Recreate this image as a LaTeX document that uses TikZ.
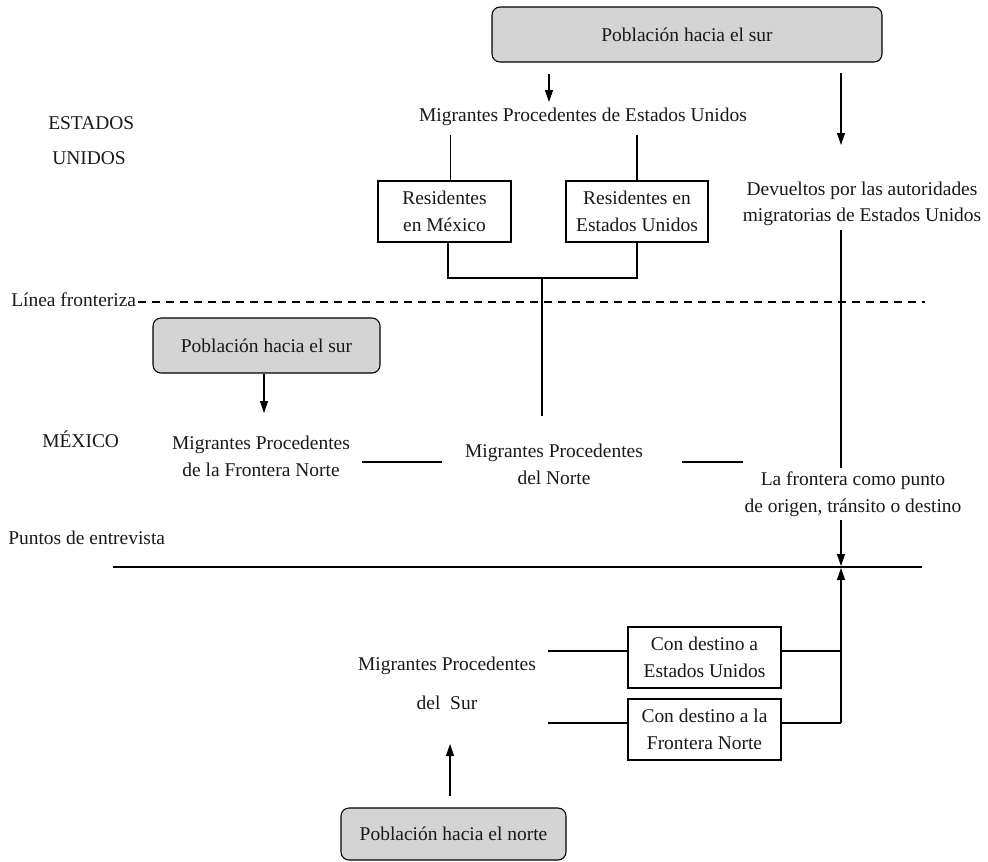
\documentclass[tikz,border=0pt]{standalone}
\usepackage{fontspec}
\setmainfont{Liberation Serif}
\usetikzlibrary{arrows.meta,calc}
\begin{document}
\begin{tikzpicture}[x=0.75pt,y=-0.75pt,
  every node/.style={font=\fontsize{14.6pt}{20pt}\selectfont, inner sep=0pt, text=black!90},
  txt/.style={align=center},
  graybox/.style={draw, rounded corners=6pt, fill=black!17, line width=0.8pt, minimum height=41.25pt},
  whitebox/.style={draw, fill=white, align=center, line width=0.8pt, minimum height=45.75pt},
  ln/.style={line width=0.8pt},
  arr/.style={line width=0.8pt, -{Triangle[length=9pt,width=6pt]}},
  border/.style={line width=0.8pt, dash pattern=on 6pt off 4.5pt}]
\useasboundingbox (0,0) rectangle (988,861);

% nodes
\node[graybox, minimum width=292.5pt] (top) at (687,34.5) {Población hacia el sur};
\node[txt] (migEU) at (583,117) {Migrantes Procedentes de Estados Unidos};
\node[whitebox, minimum width=99.75pt] (resMex) at (444.5,211.5) {Residentes\\en México};
\node[whitebox, minimum width=106.5pt] (resEU) at (637,211.5) {Residentes en\\Estados Unidos};
\node[txt] (dev) at (862,204) {Devueltos por las autoridades\\migratorias de Estados Unidos};
\node[anchor=west] (estados) at (48,123) {ESTADOS};
\node[anchor=west] (unidos) at (52,158) {UNIDOS};
\node[anchor=west] (linea) at (11,300) {Línea fronteriza};
\node[graybox, minimum width=170.25pt] (sur2) at (266.5,345.5) {Población hacia el sur};
\node[anchor=west] (mexico) at (42,439) {MÉXICO};
\node[txt] (migFN) at (261,456) {Migrantes Procedentes\\de la Frontera Norte};
\node[txt] (migN) at (554,464) {Migrantes Procedentes\\del Norte};
\node[txt] (front) at (853,494) {La frontera como punto\\de origen, tránsito o destino};
\node[anchor=west] (puntos) at (8,538) {Puntos de entrevista};
\node[txt] (migS) at (447,683) {Migrantes Procedentes\\[9pt]del\ \ Sur};
\node[whitebox, minimum width=114.75pt] (conEU) at (704.5,657.5) {Con destino a\\Estados Unidos};
\node[whitebox, minimum width=114.75pt] (conFN) at (704.5,729.5) {Con destino a la\\Frontera Norte};
\node[graybox, minimum width=168.75pt, minimum height=39pt] (norte) at (453.5,834) {Población hacia el norte};

% helper coordinates
\coordinate (dL) at (138,302);
\coordinate (dR) at (925,302);
\coordinate (hL) at (113,567);
\coordinate (hR) at (922,567);
\coordinate (hX) at (841,567);
\coordinate (a1s) at (549,74);
\coordinate (a1e) at (549,102);
\coordinate (a2s) at (841,73);
\coordinate (a2e) at (841,145);
\coordinate (m1) at (450.5,135);
\coordinate (m2) at (637,135);
\coordinate (j1) at (448,278);
\coordinate (j2) at (637,278);
\coordinate (jm) at (542,278);
\coordinate (jn) at (542,416);
\coordinate (d1) at (841,230);
\coordinate (d2) at (841,468);
\coordinate (f1) at (841,520);
\coordinate (s1) at (362,462);
\coordinate (s2) at (442,462);
\coordinate (s3) at (682,462);
\coordinate (s4) at (743,462);
\coordinate (p1) at (548,651);
\coordinate (p2) at (548,723);
\coordinate (r1) at (841,651);
\coordinate (r2) at (841,723);
\coordinate (n1) at (450,796);
\coordinate (n2) at (450,744);
\coordinate (q1) at (264,413);

% border and interview line
\draw[border] (dL) -- (dR);
\draw[ln] (hL) -- (hR);

% upper part
\draw[arr] (a1s) -- (a1e);
\draw[arr] (a2s) -- (a2e);
\draw[ln] (m1) -- (m1 |- resMex.north);
\draw[ln] (m2) -- (m2 |- resEU.north);
\draw[ln] (j1 |- resMex.south) -- (j1) -- (j2) -- (j2 |- resEU.south);
\draw[ln] (jm) -- (jn);
\draw[ln] (d1) -- (d2);
\draw[arr] (f1) -- ($(hX)+(0,-1)$);

% middle
\draw[arr] (q1 |- sur2.south) -- (q1);
\draw[ln] (s1) -- (s2);
\draw[ln] (s3) -- (s4);

% lower part
\draw[ln] (p1) -- (p1 -| conEU.west);
\draw[ln] (p2) -- (p2 -| conFN.west);
\draw[ln] (conEU.east |- r1) -- (r1);
\draw[ln] (conFN.east |- r2) -- (r2);
\draw[arr] (r2) -- ($(hX)+(0,1)$);
\draw[arr] (n1) -- (n2);
\end{tikzpicture}
\end{document}
